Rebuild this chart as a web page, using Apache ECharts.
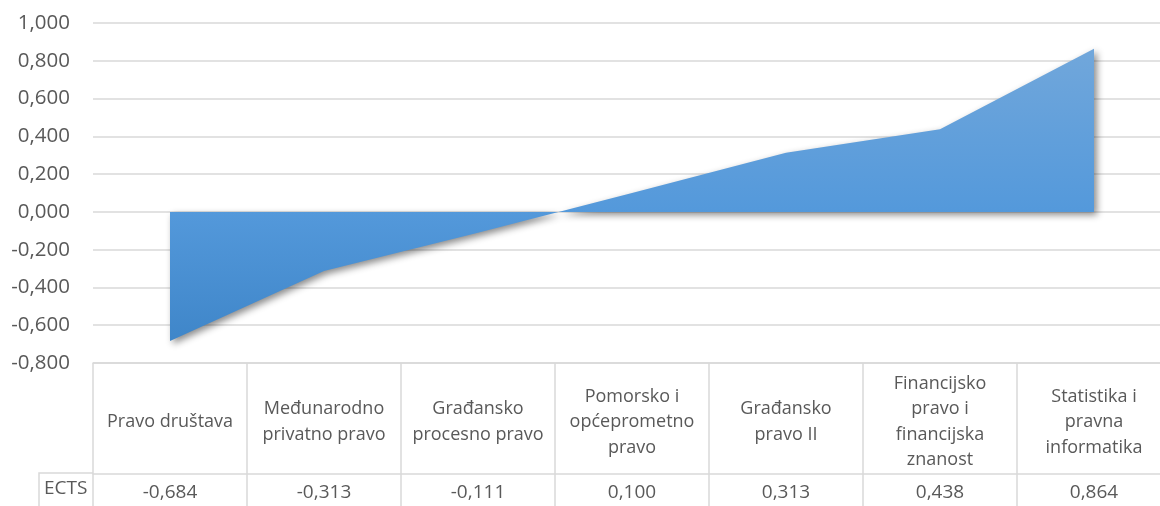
<!DOCTYPE html>
<html>
<head>
<meta charset="utf-8">
<script src="https://cdn.jsdelivr.net/npm/echarts@6/dist/echarts.min.js"></script>
<style>
  html, body { margin: 0; padding: 0; background: #fff; }
  #chart { width: 1160px; height: 506px; }
</style>
</head>
<body>
<div id="chart"></div>
<script>
// Course names (x categories) and their ECTS deviation values
const categories = [
  'Pravo društava',
  'Međunarodno\nprivatno pravo',
  'Građansko\nprocesno pravo',
  'Pomorsko i\nopćeprometno\npravo',
  'Građansko\npravo II',
  'Financijsko\npravo i\nfinancijska\nznanost',
  'Statistika i\npravna\ninformatika'
];
const ectsValues = [-0.684, -0.313, -0.111, 0.100, 0.313, 0.438, 0.864];
const seriesName = 'ECTS';

// Value axis range
const yMin = -0.8;
const yMax = 1.0;
const yStep = 0.2;

const FONT = "'Open Sans', 'Noto Sans', sans-serif";
const TEXT = '#595959';
const LINE = '#d9d9d9';

// Decimal comma with three places, e.g. 0,864
const fmt = v => (Math.abs(v) < 1e-9 ? 0 : v).toFixed(3).replace('.', ',');

const chart = echarts.init(document.getElementById('chart'), null, { renderer: 'canvas' });

chart.setOption({
  animation: false,
  backgroundColor: '#ffffff',
  // the plot (and the table under it) runs a little past the right edge
  grid: { left: 93, width: 1078, top: 23, bottom: 143, containLabel: false, outerBoundsMode: 'none' },
  xAxis: [
    {
      // category header row of the data table
      type: 'category',
      data: categories,
      boundaryGap: true,
      axisLine: { show: true, onZero: false, lineStyle: { color: LINE, width: 1.5 } },
      axisTick: { show: true, interval: 0, length: 150, lineStyle: { color: LINE, width: 1.5 } },
      axisLabel: {
        interval: 0,
        margin: 59,
        verticalAlign: 'middle',
        color: TEXT,
        fontFamily: FONT,
        fontSize: 18,
        lineHeight: 25.5,
        align: 'center'
      },
      splitLine: { show: false }
    },
    {
      // value row of the data table
      type: 'category',
      data: categories,
      position: 'bottom',
      offset: 111,
      boundaryGap: true,
      axisLine: { show: true, onZero: false, lineStyle: { color: LINE, width: 1.5 } },
      axisTick: { show: false },
      axisLabel: {
        interval: 0,
        margin: 19,
        verticalAlign: 'middle',
        color: TEXT,
        fontFamily: FONT,
        fontSize: 19,
        formatter: (val, idx) => fmt(ectsValues[idx])
      },
      splitLine: { show: false }
    }
  ],
  yAxis: {
    type: 'value',
    min: yMin,
    max: yMax,
    interval: yStep,
    axisLine: { show: false },
    axisTick: { show: false },
    axisLabel: {
      margin: 23,
      color: TEXT,
      fontFamily: FONT,
      fontSize: 20.5,
      formatter: v => fmt(v)
    },
    splitLine: { show: true, lineStyle: { color: LINE, width: 1.5 } }
  },
  series: [
    {
      name: seriesName,
      type: 'line',
      xAxisIndex: 0,
      data: ectsValues,
      symbol: 'none',
      lineStyle: { width: 0 },
      areaStyle: {
        origin: 0,
        color: {
          type: 'linear', x: 0, y: 0, x2: 0, y2: 1,
          colorStops: [
            { offset: 0, color: '#71a7db' },
            { offset: 0.55, color: '#5499db' },
            { offset: 1, color: '#3f86c9' }
          ]
        },
        opacity: 1,
        shadowColor: 'rgba(0,0,0,0.45)',
        shadowBlur: 7,
        shadowOffsetX: 3,
        shadowOffsetY: 3
      },
      z: 3
    }
  ],
  graphic: [
    {
      // series-name cell to the left of the value row
      type: 'polyline',
      shape: { points: [[39, 512], [39, 473], [93, 473]] },
      style: { stroke: LINE, lineWidth: 1.5, fill: null },
      silent: true
    },
    {
      type: 'text',
      left: 44,
      top: 479,
      style: { text: seriesName, fill: TEXT, font: '19px ' + FONT }
    }
  ]
});
</script>
</body>
</html>
